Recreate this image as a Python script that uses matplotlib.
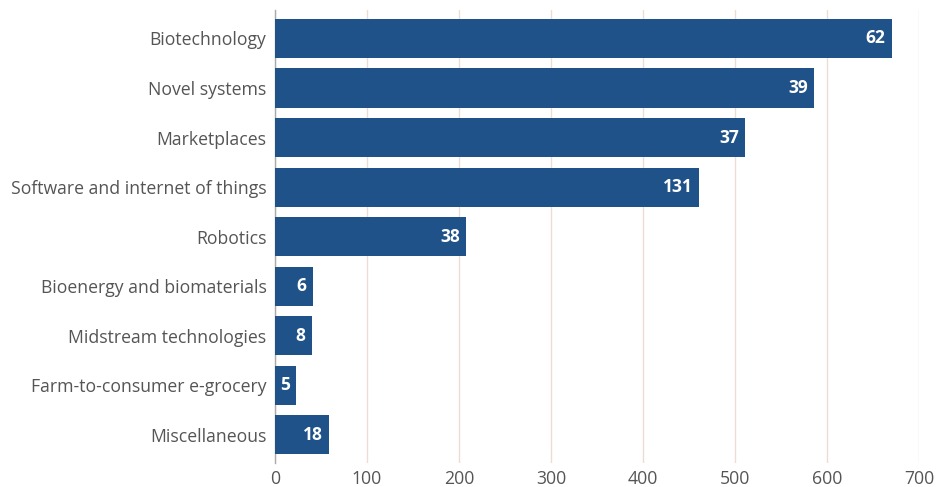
import matplotlib
matplotlib.use("Agg")
import matplotlib.pyplot as plt

categories = [
    "Biotechnology",
    "Novel systems",
    "Marketplaces",
    "Software and internet of things",
    "Robotics",
    "Bioenergy and biomaterials",
    "Midstream technologies",
    "Farm-to-consumer e-grocery",
    "Miscellaneous",
]
values = [670, 586, 511, 461, 208, 41, 40, 23, 59]
counts = [62, 39, 37, 131, 38, 6, 8, 5, 18]
xticks = [0, 100, 200, 300, 400, 500, 600, 700]

bar_color = "#1f5289"
grid_color = "#ecdcd4"
text_color = "#555555"

plt.rcParams["font.family"] = ["Open Sans", "DejaVu Sans"]

fig = plt.figure(figsize=(9.41, 4.87), dpi=100)
ax = fig.add_axes([0.292, 0.049, 0.685, 0.93])

y = list(range(len(categories)))
ax.barh(y, values, height=0.79, color=bar_color, zorder=3)

for yi, v, c in zip(y, values, counts):
    ax.text(v - 7, yi, str(c), ha="right", va="center", color="white",
            fontsize=12.5, fontweight="bold", zorder=4)

ax.set_xlim(0, 700)
ax.set_ylim(len(categories) - 0.43, -0.57)
ax.set_xticks(xticks)
ax.set_xticklabels([str(t) for t in xticks])
ax.set_yticks(y)
ax.set_yticklabels(categories)

ax.tick_params(axis="both", length=0, colors=text_color, labelsize=12.7)
ax.tick_params(axis="y", pad=6)
ax.tick_params(axis="x", pad=5)
ax.grid(axis="x", color=grid_color, linewidth=1, zorder=0)

for s in ["top", "right", "bottom"]:
    ax.spines[s].set_visible(False)
ax.spines["left"].set_color("#aaaaaa")
ax.spines["left"].set_linewidth(1)

fig.savefig("out.png", dpi=100, facecolor="white")
